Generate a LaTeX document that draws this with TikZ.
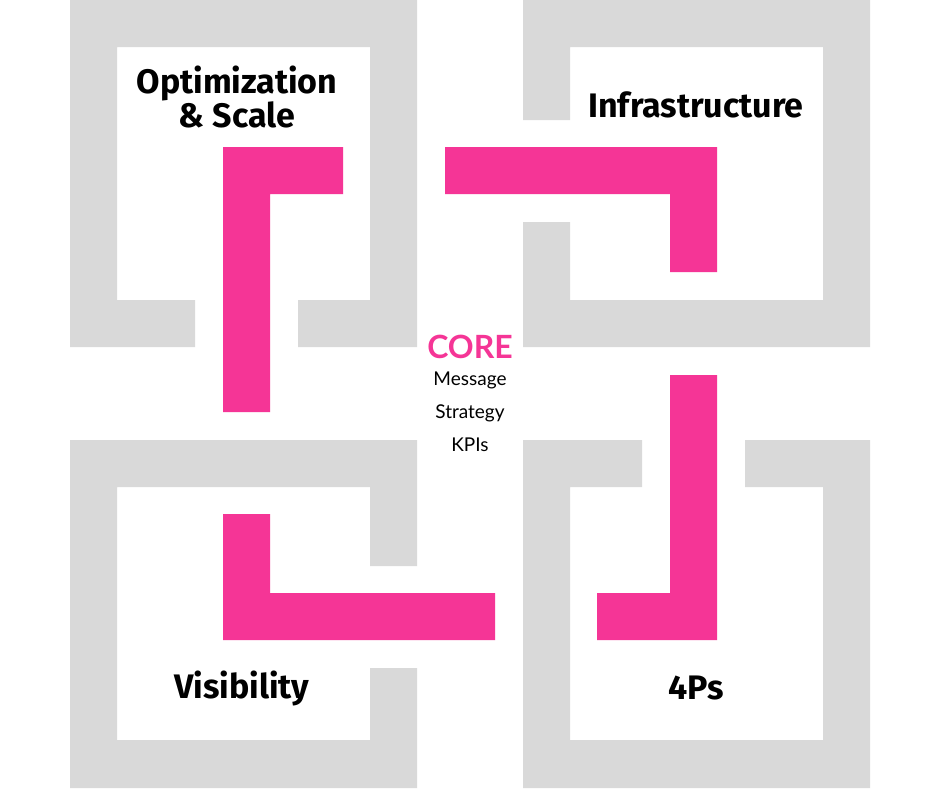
\documentclass[tikz,border=0pt]{standalone}
\usepackage{fontspec}
\setmainfont{Fira Sans}
\newfontfamily\lato{Lato}
\definecolor{gr}{HTML}{D9D9D9}
\definecolor{pk}{HTML}{F53596}
\begin{document}
\begin{tikzpicture}[x=1pt,y=-1pt,
  gb/.style={fill=gr},pb/.style={fill=pk},
  lab/.style={font=\fontsize{34}{38}\selectfont\bfseries,align=center,inner sep=0},
  core/.style={font=\lato\fontsize{19}{33}\selectfont,align=center,inner sep=0}]
\useasboundingbox (0,0) rectangle (940,788);
\fill[white] (0,0) rectangle (940,788);
% top-left
\path[gb] (70,0) rectangle (417,47) (70,0) rectangle (117,347) (370,0) rectangle (417,347)
  (70,300) rectangle (195,347) (298,300) rectangle (417,347);
% top-right
\path[gb] (523,0) rectangle (870,47) (823,0) rectangle (870,347) (523,300) rectangle (870,347)
  (523,0) rectangle (570,120) (523,222) rectangle (570,347);
% bottom-left
\path[gb] (70,440) rectangle (417,487) (70,440) rectangle (117,788) (70,740) rectangle (417,788)
  (370,440) rectangle (417,566) (370,668) rectangle (417,788);
% bottom-right
\path[gb] (523,440) rectangle (570,788) (823,440) rectangle (870,788) (523,740) rectangle (870,788)
  (523,440) rectangle (642,487) (745,440) rectangle (870,487);
% pink L shapes
\path[pb] (223,147) rectangle (270,412) (223,147) rectangle (343,194);
\path[pb] (445,147) rectangle (717,194) (670,147) rectangle (717,272);
\path[pb] (670,375) rectangle (717,640) (597,593) rectangle (717,640);
\path[pb] (223,514) rectangle (270,640) (223,593) rectangle (495,640);
% labels
\node[lab] (opt) at (237,97) {Optimization\\[-4pt]\& Scale};
\node[lab] (inf) at (696,105) {Infrastructure};
\node[lab] (vis) at (242,688) {Visibility};
\node[lab] (fps) at (696,688) {4Ps};
\node[inner sep=0,font=\lato\fontsize{32}{36}\selectfont\bfseries,text=pk] (core) at (470,347) {CORE};
\node[core,anchor=north] (msg) at (470,372) {Message\\Strategy\\KPIs};
\end{tikzpicture}
\end{document}
